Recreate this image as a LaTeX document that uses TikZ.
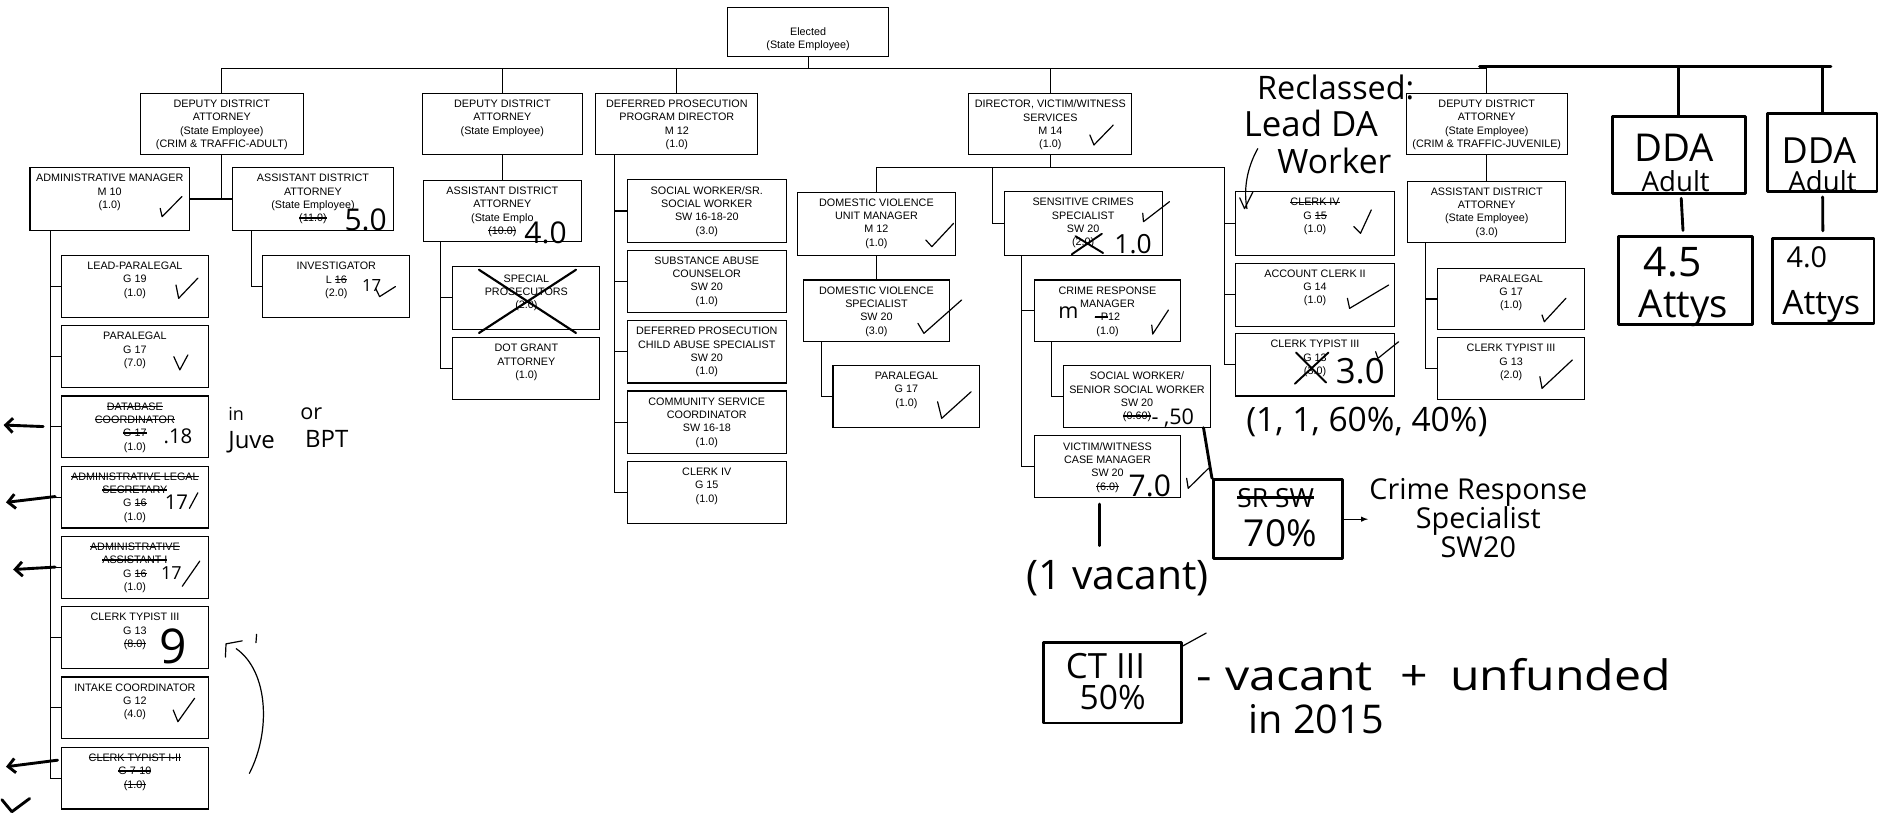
\documentclass[tikz,border=0pt]{standalone}
\usepackage{fontspec}
\setmainfont{Liberation Sans}
\newfontfamily\handfont{Open Sans}
\usepackage{tikz}
\usetikzlibrary{arrows.meta}
\newsavebox\xsbox
\newcommand{\xs}[2][1.1pt]{\sbox\xsbox{#2}\rlap{\rule[.29em]{\wd\xsbox}{#1}}\usebox\xsbox}

\begin{document}
\begin{tikzpicture}[>=latex, x=1pt, y=-1pt, line width=.9pt,
    post/.style={draw, inner sep=0pt, minimum width=134pt, minimum height=51pt},
    slim/.style={post, minimum width=122.5pt, minimum height=51.5pt},
    txt/.style={anchor=north, align=center, inner sep=0pt, yshift=-5.5pt,
        font=\fontsize{9}{11.1}\selectfont},
    hand/.style={inner sep=0pt, font=\handfont\fontsize{#1}{#1}\selectfont},
    marker/.style={line width=2.4pt, line cap=round, line join=round},
    pen/.style={line width=1pt, line cap=round, line join=round},
    sketch/.style={draw, marker, inner sep=0pt},
    handarrow/.style={marker, -{Straight Barb[length=6pt, width=12pt]}}]

    \useasboundingbox (0,0) rectangle (1568,681);
    \fill[white] (0,0) rectangle (1568,681);

    % top of the chart
    \node[post, minimum height=41pt, label={[txt, yshift=-11.5pt]north:{Elected\\(State Employee)}}] (elected) at (674,26.5) {};
    \coordinate (bus) at (674,57.5);

    \node[post, minimum width=136pt, label={[txt]north:{DEPUTY DISTRICT\\ATTORNEY\\(State Employee)\\(CRIM \& TRAFFIC-ADULT)}}] (dda1) at (185,103.5) {};
    \node[post, label={[txt]north:{DEPUTY DISTRICT\\ATTORNEY\\(State Employee)}}] (dda2) at (419,103.5) {};
    \node[post, minimum width=135pt, label={[txt]north:{DEFERRED PROSECUTION\\PROGRAM DIRECTOR\\M 12\\(1.0)}}] (dpd) at (564.5,103.5) {};
    \node[post, minimum width=136pt, label={[txt]north:{DIRECTOR, VICTIM/WITNESS\\SERVICES\\M 14\\(1.0)}}] (dir) at (876,103.5) {};
    \node[post, minimum width=134.5pt, label={[txt]north:{DEPUTY DISTRICT\\ATTORNEY\\(State Employee)\\(CRIM \& TRAFFIC-JUVENILE)}}] (ddaj) at (1240,103.5) {};

    \draw (elected) -- (bus);
    \draw (dda1.north) |- (bus) -| (ddaj.north);
    \draw (dda2) -- (dda2 |- bus);
    \draw (dpd) -- (dpd |- bus);
    \draw (dir) -- (dir |- bus);

    % adult branch
    \node[post, minimum width=133pt, minimum height=52pt, label={[txt]north:{ADMINISTRATIVE MANAGER\\M 10\\(1.0)}}] (adm) at (91.5,166) {};
    \node[post, minimum height=52pt, label={[txt]north:{ASSISTANT DISTRICT\\ATTORNEY\\(State Employee)\\\xs{(11.0)}}}] (ada1) at (261,166) {};
    \draw (dda1) -- (dda1 |- adm);
    \draw (adm) -- (ada1);

    \coordinate (admbus) at ([xshift=-49.5pt]adm.south);
    \node[slim, label={[txt]north:{LEAD-PARALEGAL\\G 19\\(1.0)}}] (lp) at (112.5,238.8) {};
    \node[slim, label={[txt]north:{PARALEGAL\\G 17\\(7.0)}}] (para) at (112.5,297.4) {};
    \node[slim, label={[txt]north:{\xs{DATABASE}\\\xs{COORDINATOR}\\\xs{G 17}\hspace{14pt}\\(1.0)}}] (dbc) at (112.5,356) {};
    \node[slim, label={[txt]north:{\xs{ADMINISTRATIVE LEGAL}\\\xs{SECRETARY}\\G \xs{16}\hspace{12pt}\\(1.0)}}] (als) at (112.5,414.6) {};
    \node[slim, label={[txt]north:{\xs{ADMINISTRATIVE}\\\xs{ASSISTANT I}\\G \xs{16}\hspace{12pt}\\(1.0)}}] (aa1) at (112.5,473.2) {};
    \node[slim, label={[txt]north:{CLERK TYPIST III\\G 13\\\xs{(8.0)}}}] (ct3) at (112.5,531.8) {};
    \node[slim, label={[txt]north:{INTAKE COORDINATOR\\G 12\\(4.0)}}] (ic) at (112.5,590.4) {};
    \node[slim, label={[txt]north:{\xs{CLERK TYPIST I-II}\\\xs{G 7-10}\\\xs{(1.0)}}}] (ct12) at (112.5,649) {};
    \draw (admbus) |- (ct12.west);
    \draw (admbus |- lp.west) -- (lp.west);
    \draw (admbus |- para.west) -- (para.west);
    \draw (admbus |- dbc.west) -- (dbc.west);
    \draw (admbus |- als.west) -- (als.west);
    \draw (admbus |- aa1.west) -- (aa1.west);
    \draw (admbus |- ct3.west) -- (ct3.west);
    \draw (admbus |- ic.west) -- (ic.west);

    \coordinate (ada1bus) at ([xshift=16pt]ada1.south west);
    \node[slim, label={[txt]north:{INVESTIGATOR\\L \xs{16}\hspace{10pt}\\(2.0)}}] (inv) at (280.5,239) {};
    \draw (ada1bus) |- (inv.west);

    % second deputy
    \node[post, minimum width=132pt, label={[txt]north:{ASSISTANT DISTRICT\\ATTORNEY\\(State Emplo\hspace{22pt}\\\xs{(10.0)}\hspace{22pt}}}] (ada2) at (419,176) {};
    \draw (dda2) -- (ada2);
    \coordinate (ada2bus) at ([xshift=15pt]ada2.south west);
    \node[slim, minimum height=53pt, label={[txt, yshift=-1.5pt]north:{SPECIAL\\PROSECUTORS\\(2.0)}}] (sp) at (439,248.5) {};
    \node[slim, label={[txt]north:{DOT GRANT\\ATTORNEY\\(1.0)}}] (dotg) at (439,307.5) {};
    \draw (ada2bus) |- (dotg.west);
    \draw (ada2bus |- sp.west) -- (sp.west);

    % deferred prosecution
    \coordinate (dpdbus) at ([xshift=16pt]dpd.south west);
    \node[post, minimum width=133pt, minimum height=52pt, label={[txt]north:{SOCIAL WORKER/SR.\\SOCIAL WORKER\\SW 16-18-20\\(3.0)}}] (sw) at (589.5,176) {};
    \node[post, minimum width=133pt, minimum height=52pt, label={[txt]north:{SUBSTANCE ABUSE\\COUNSELOR\\SW 20\\(1.0)}}] (sac) at (589.5,234.7) {};
    \node[post, minimum width=133pt, minimum height=52pt, label={[txt]north:{DEFERRED PROSECUTION\\CHILD ABUSE SPECIALIST\\SW 20\\(1.0)}}] (dpc) at (589.5,293.4) {};
    \node[post, minimum width=133pt, minimum height=52pt, label={[txt]north:{COMMUNITY SERVICE\\COORDINATOR\\SW 16-18\\(1.0)}}] (csc) at (589.5,352.1) {};
    \node[post, minimum width=133pt, minimum height=52pt, label={[txt]north:{CLERK IV\\G 15\\(1.0)}}] (clk15) at (589.5,410.8) {};
    \draw (dpdbus) |- (clk15.west);
    \draw (dpdbus |- sw.west) -- (sw.west);
    \draw (dpdbus |- sac.west) -- (sac.west);
    \draw (dpdbus |- dpc.west) -- (dpc.west);
    \draw (dpdbus |- csc.west) -- (csc.west);

    % victim/witness services
    \coordinate (dirbus) at (876,140);
    \coordinate (scbus) at (827.6,140);
    \coordinate (clkbus) at (1021,140);
    \draw (dir) -- (dirbus);
    \node[post, minimum width=131.5pt, minimum height=52.5pt, label={[txt]north:{DOMESTIC VIOLENCE\\UNIT MANAGER\\M 12\\(1.0)}}] (dvm) at (731,186.5) {};
    \node[post, minimum width=132pt, minimum height=53pt, label={[txt]north:{SENSITIVE CRIMES\\SPECIALIST\\SW 20\hspace{8pt}\\(2.0)\hspace{12pt}}}] (scs) at (903.4,186.5) {};
    \node[post, minimum width=132.5pt, minimum height=53pt, label={[txt]north:{\xs{CLERK IV}\\G \xs{15}\\(1.0)}}] (clk4) at (1096.8,186.5) {};
    \node[post, minimum width=132.5pt, minimum height=52.5pt, label={[txt]north:{ACCOUNT CLERK II\\G 14\\(1.0)}}] (acc2) at (1096.8,245.8) {};
    \node[post, minimum width=132.5pt, minimum height=52pt, label={[txt]north:{CLERK TYPIST III\\G 13\\(3.0)}}] (ct3b) at (1096.8,304.3) {};
    \draw (dvm.north) |- (clkbus) |- (ct3b.west);
    \draw (scbus) |- (scs.west);
    \draw (clkbus |- clk4.west) -- (clk4.west);
    \draw (clkbus |- acc2.west) -- (acc2.west);

    \node[slim, minimum width=121.5pt, label={[txt]north:{DOMESTIC VIOLENCE\\SPECIALIST\\SW 20\\(3.0)}}] (dvs) at (731,259.3) {};
    \draw (dvm) -- (dvs);
    \coordinate (dvsbus) at ([xshift=15pt]dvs.south west);
    \node[slim, label={[txt]north:{PARALEGAL\\G 17\\(1.0)}}] (dvp) at (756,330.5) {};
    \draw (dvsbus) |- (dvp.west);

    \coordinate (scsbus) at ([xshift=15.2pt]scs.south west);
    \node[slim, minimum width=122pt, label={[txt]north:{CRIME RESPONSE\\MANAGER\\\xs{--P}12\\(1.0)}}] (crm) at (923.7,259.3) {};
    \node[slim, minimum width=122pt, label={[txt]north:{SOCIAL WORKER/\\SENIOR SOCIAL WORKER\\SW 20\\\xs{(0.60)}\hspace{30pt}}}] (ssw) at (948.3,330.5) {};
    \node[slim, minimum width=122pt, label={[txt]north:{VICTIM/WITNESS\\CASE MANAGER\\SW 20\\\xs{(6.0)}\hspace{30pt}}}] (vwm) at (923.7,389.2) {};
    \draw (scsbus) |- (vwm.west);
    \draw (scsbus |- crm.west) -- (crm.west);
    \coordinate (crmbus) at ([xshift=15pt]crm.south west);
    \draw (crmbus) |- (ssw.west);

    % juvenile branch
    \node[post, minimum width=132pt, label={[txt]north:{ASSISTANT DISTRICT\\ATTORNEY\\(State Employee)\\(3.0)}}] (adaj) at (1240,176.5) {};
    \draw (ddaj) -- (adaj);
    \coordinate (adajbus) at ([xshift=15.7pt]adaj.south west);
    \node[slim, label={[txt]north:{PARALEGAL\\G 17\\(1.0)}}] (parj) at (1260.3,249.4) {};
    \node[slim, label={[txt]north:{CLERK TYPIST III\\G 13\\(2.0)}}] (ctj) at (1260.3,307.4) {};
    \draw (adajbus) |- (ctj.west);
    \draw (adajbus |- parj.west) -- (parj.west);

    % hand drawn additions
    \coordinate (handstart) at (1234,55.5);
    \coordinate (handbus) at (1527,55.5);
    \draw[marker] (handstart) -- (handbus);
    \node[sketch, minimum width=111pt, minimum height=64pt] (ddaA1) at (1400.2,129.2) {};
    \node[sketch, minimum width=91pt, minimum height=65.5pt] (ddaA2) at (1520,127.3) {};
    \node[sketch, minimum width=112pt, minimum height=73.6pt] (att1) at (1406,234.2) {};
    \node[sketch, minimum width=85pt, minimum height=71pt] (att2) at (1520.5,234.2) {};
    \draw[marker] (ddaA1.north |- handbus) -- (ddaA1.north);
    \draw[marker] (ddaA2.north |- handbus) -- (ddaA2.north);
    \draw[marker, shorten <=3pt, shorten >=4pt] (ddaA1) -- (att1);
    \draw[marker, shorten <=3pt, shorten >=5pt] (ddaA2) -- (att2);
    \node[hand=32, anchor=base] (ddatxt1) at (1396,135) {DDA};
    \node[hand=23, anchor=base] (adult1) at (1397.6,160) {Adult};
    \node[hand=30, anchor=base] (ddatxt2) at (1517,136) {DDA};
    \node[hand=23, anchor=base] (adult2) at (1520,160) {Adult};
    \node[hand=34, anchor=base] (fte1) at (1395,231) {4.5};
    \node[hand=32, anchor=base] (attys1) at (1404,265) {Attys};
    \node[hand=24, anchor=base] (fte2) at (1507,223) {4.0};
    \node[hand=28, anchor=base] (attys2) at (1519,262) {Attys};

    \node[hand=27, anchor=base west] (reclass) at (1048,83) {Reclassed:};
    \node[hand=29, anchor=base west] (leadda) at (1037,114) {Lead DA};
    \node[hand=28, anchor=base west] (worker) at (1065,145) {Worker};
    \draw[pen] (1049,124) .. controls (1040,140) and (1037,158) .. (1040,174);
    \draw[pen] (1034,165) -- (1038,174) -- (1045,160);
    \node[hand=28, anchor=base west] (split) at (1039,360) {(1, 1, 60\%, 40\%)};

    % numbers written on the boxes
    \node[hand=25] (fte5) at (305,183) {5.0};
    \node[hand=25] (fte4) at (455,194.5) {4.0};
    \node[hand=22] (fte1b) at (945,203.6) {1.0};
    \node[hand=29] (fte3) at (1134.5,309.4) {3.0};
    \node[hand=25] (fte7) at (959,405.5) {7.0};
    \node[hand=40] (nine) at (144.5,539.5) {9};
    \node[hand=14, anchor=base west] (inv17) at (301.5,243) {17};
    \node[hand=17, anchor=base west] (dbc18) at (136,370) {.18};
    \node[hand=17, anchor=base west] (als17) at (137,425) {17};
    \node[hand=15, anchor=base west] (aa17) at (134,483) {17};
    \node[hand=18] (crmm) at (891,261) {m};
    \node[hand=18, anchor=base west] (ssw50) at (960,354) {- ,50};
    \draw[pen] (158,424) -- (165,411);
    \draw[pen] (152,489) -- (166.6,468);
    \draw[marker, line width=1.8pt] (399.5,225) -- (480.4,277.7) (399.5,277.7) -- (480.4,225);
    \draw[marker, line width=1.6pt] (894,212) -- (919,195) (897,197) -- (920,211);
    \draw[marker, line width=1.6pt] (1080,320) -- (1108,294) (1081,294) -- (1106,319);

    % check marks
    \draw[pen] (133.6,173.8) -- (135.2,180.7) -- (151.7,164);
    \draw[pen] (146.8,237.7) -- (149,248.8) -- (165,232);
    \draw[pen] (145,297.5) -- (150,308.5) -- (156.7,296);
    \draw[pen] (144.5,592.2) -- (148.4,601.9) -- (162.3,582.4);
    \draw[pen] (313.3,240.5) -- (316.6,247.4) -- (329.8,239);
    \draw[pen] (909,112.6) -- (912.4,120.9) -- (928.5,104.3);
    \draw[pen] (772.2,200.2) -- (777.2,205.7) -- (795.3,186.3);
    \draw[pen] (765.6,269.7) -- (770.6,278) -- (802,250.2);
    \draw[pen] (782,335.1) -- (785.4,348.9) -- (810,326.7);
    \draw[pen] (953.1,177.9) -- (953.7,184.9) -- (975.4,168.2);
    \draw[pen] (960.6,271.1) -- (961.4,278.6) -- (974.5,258.6);
    \draw[pen] (989.7,398.9) -- (991,407.3) -- (1008,390.6);
    \draw[pen] (1129.2,189) -- (1134.7,194.6) -- (1143.7,175.1);
    \draw[pen] (1123.8,248.8) -- (1125.6,257.2) -- (1158.2,237.7);
    \draw[pen] (1147.3,293.3) -- (1149.2,298.9) -- (1166.5,285);
    \draw[pen] (1286.1,262.7) -- (1288,268.3) -- (1306,248.8);
    \draw[pen] (1284.3,314.1) -- (1286.1,323.9) -- (1311.4,300.2);

    % notes under victim/witness
    \node[sketch, minimum width=108pt, minimum height=66pt] (crs) at (1066,433) {};
    \draw[marker] ([xshift=-6pt]ssw.south east) -- (crs.north west);
    \node[hand=22] (srsw) at (1064,415) {\xs[3pt]{SR SW}};
    \node[hand=31] (pct70) at (1068,445) {70\%};
    \coordinate (crsarrow) at (1141,433);
    \draw[pen, ->] (crs.east) -- (crsarrow);
    \node[hand=24, align=center] (crsnote) at (1233,432) {Crime Response\\Specialist\\SW20};
    \coordinate (vwmdrop) at (917,455);
    \draw[marker] ([xshift=-6.7pt, yshift=-5pt]vwm.south) -- (vwmdrop);
    \node[hand=34] (vacant) at (932,482) {(1 vacant)};

    \node[sketch, minimum width=115.5pt, minimum height=67pt] (ctbox) at (928,569.5) {};
    \node[hand=29, anchor=base] (cttxt) at (922,566) {CT III};
    \node[hand=28, anchor=base] (ct50) at (928,592) {50\%};
    \draw[pen] (986,539) -- (1006,528);
    \node[hand=35, xscale=1.15, anchor=base west] (ctnote) at (997,576) {-\hspace{10pt}vacant\hspace{20pt}+\hspace{16pt}unfunded};
    \node[hand=33, anchor=base west] (ctyear) at (1041,612) {in 2015};

    % notes on the left
    \node[hand=15, anchor=base west] (jin) at (190,351) {in};
    \node[hand=20, anchor=base west] (jjuve) at (190,374) {Juve};
    \node[hand=18, anchor=base west] (jor) at (250,350) {or};
    \node[hand=20, anchor=base west] (jbpt) at (254,373) {BPT};
    \draw[pen] (208,645) .. controls (226,610) and (224,560) .. (197,541);
    \draw[pen] (188,548) -- (188.5,537) -- (202,534.5);
    \draw[pen] (214,529) -- (213.5,536);

    \coordinate (outdb) at (3,354.5);
    \coordinate (outals) at (5,419);
    \coordinate (outaa) at (11,475);
    \coordinate (inct) at (48,634);
    \coordinate (outct) at (5,639.5);
    \draw[handarrow, shorten <=6pt] (admbus |- dbc.west) -- (outdb);
    \draw[handarrow, shorten <=-4pt] (admbus |- als.west) -- (outals);
    \draw[handarrow, shorten <=-4pt] (admbus |- aa1.west) -- (outaa);
    \draw[handarrow] (inct) -- (outct);
    \draw[marker] (1.6,667) -- (9.9,677) -- (24.7,666);

\end{tikzpicture}
\end{document}
